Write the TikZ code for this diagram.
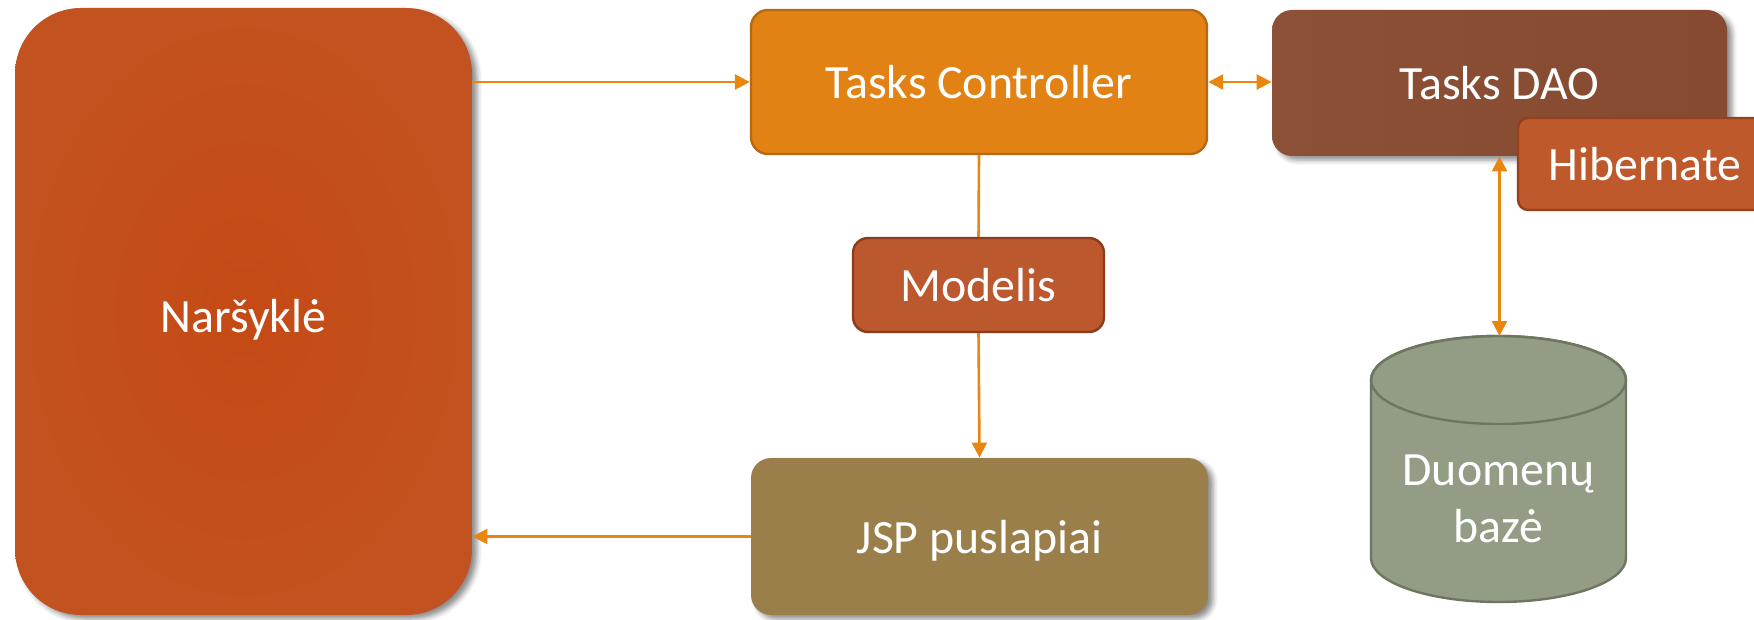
\documentclass[tikz,border=0pt]{standalone}
\usepackage{fontspec}
\setmainfont{Carlito}
\usetikzlibrary{arrows.meta,shadows.blur,calc}

\definecolor{browserin}{HTML}{C54A15}
\definecolor{browserout}{HTML}{C2521F}
\definecolor{ctrlfill}{HTML}{E38214}
\definecolor{ctrldraw}{HTML}{B76813}
\definecolor{daoleft}{HTML}{8C5037}
\definecolor{daoright}{HTML}{864A31}
\definecolor{hibfill}{HTML}{BE592C}
\definecolor{hibdraw}{HTML}{96401E}
\definecolor{modfill}{HTML}{BB582D}
\definecolor{moddraw}{HTML}{8D3B1A}
\definecolor{jspfill}{HTML}{9B7F4B}
\definecolor{dbfill}{HTML}{939D86}
\definecolor{dbdraw}{HTML}{6D7660}
\definecolor{link}{HTML}{E8860F}

% lower a label inside its node while keeping the node's box unchanged
\newcommand{\lowertext}[2]{\raisebox{-#1}[\height][\depth]{#2}}

\tikzset{
  box/.style={rectangle, inner sep=0pt, text=white,
    font=\fontsize{23.9}{28.5}\selectfont},
  shadowed/.style={blur shadow={shadow xshift=2.5pt, shadow yshift=-2pt,
    shadow blur radius=2.5pt, shadow opacity=45}},
  arr/.style={link, line width=1.3pt,
    -{Triangle[length=7.5pt,width=7.5pt]}},
  biarr/.style={link, line width=1.3pt,
    {Triangle[length=7.5pt,width=7.5pt]}-{Triangle[length=7.5pt,width=7.5pt]}},
  plain/.style={link, line width=1.3pt},
}

\begin{document}
\begin{tikzpicture}[x=0.5pt, y=-0.5pt]
\useasboundingbox (0,0) rectangle (1754,620);

% browser
\node[box, shadowed, inner color=browserin, outer color=browserout, rounded corners=33pt,
  minimum width=228.5pt, minimum height=303.5pt] (nar) at (243.5,311.5)
  {\lowertext{4pt}{Naršyklė}};

% controller
\node[box, fill=ctrlfill, draw=ctrldraw, line width=1.2pt, rounded corners=8.5pt,
  minimum width=228pt, minimum height=72pt] (ctrl) at (979,82) {Tasks Controller};

% DAO and Hibernate
\node[box, shadowed, left color=daoleft, right color=daoright, rounded corners=10pt,
  minimum width=227.5pt, minimum height=73pt] (dao) at (1499.5,83) {Tasks DAO};
\node[box, fill=hibfill, draw=hibdraw, line width=1.2pt, rounded corners=5pt,
  minimum width=127pt, minimum height=46pt] (hib) at (1645,164) {Hibernate};

% model
\node[box, fill=modfill, draw=moddraw, line width=1.2pt, rounded corners=7.5pt,
  minimum width=125.5pt, minimum height=47pt] (mod) at (978.5,285) {Modelis};

% JSP pages
\node[box, shadowed, fill=jspfill, rounded corners=10pt,
  minimum width=228.5pt, minimum height=78.5pt] (jsp) at (979.5,536.5)
  {\lowertext{2.2pt}{JSP puslapiai}};

% database cylinder
\filldraw[fill=dbfill, draw=dbdraw, line width=1.2pt]
  (1371,380) -- (1371,558) arc[start angle=180, end angle=360, x radius=127.5, y radius=-44]
  -- (1626,380) arc[start angle=0, end angle=180, x radius=127.5, y radius=-44] -- cycle;
\draw[dbdraw, line width=1.2pt] (1498.5,380) ellipse[x radius=127.5, y radius=44];
\coordinate (dbtop) at (1499.5,336);
\node[box, align=center] (db) at (1498.5,499) {Duomenų\\bazė};

% connectors
\draw[arr] (nar.east |- ctrl.west) -- (ctrl.west);
\draw[arr] (jsp.west) -- (jsp.west -| nar.east);
\draw[biarr] (ctrl.east) -- (ctrl.east -| dao.west);
\draw[plain] (ctrl.south) -- (mod.north);
\draw[arr] (mod.south) -- (jsp.north);
\draw[biarr] (dao.south) -- (dbtop);
\end{tikzpicture}
\end{document}
